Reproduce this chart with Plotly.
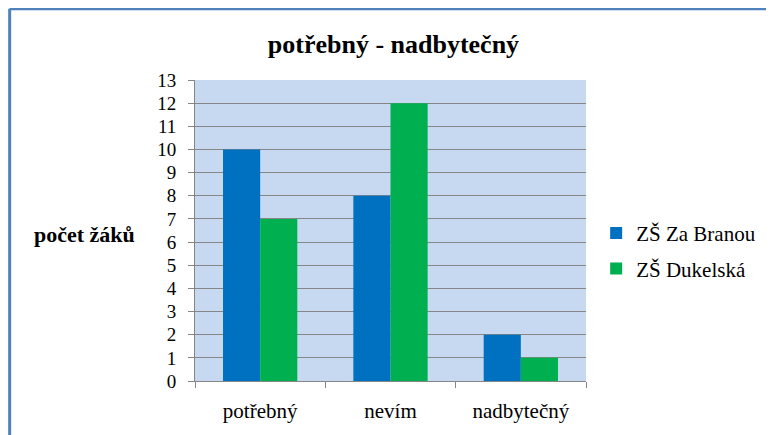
import plotly.graph_objects as go

categories = ["potřebný", "nevím", "nadbytečný"]
za_branou = [10, 8, 2]
dukelska = [7, 12, 1]
series_names = ["ZŠ Za Branou", "ZŠ Dukelská"]
chart_title = "potřebný - nadbytečný"
y_title = "počet žáků"

serif = "Liberation Serif"

fig = go.Figure()

fig.add_trace(go.Bar(
    x=categories,
    y=za_branou,
    name=series_names[0],
    legendgroup="a",
    marker=dict(color="#0070C0", line=dict(width=0))
))

fig.add_trace(go.Bar(
    x=categories,
    y=dukelska,
    name=series_names[1],
    legendgroup="b",
    marker=dict(color="#00B050", line=dict(width=0))
))

# outer frame of the chart (only top and left edges show in the picture)
fig.add_shape(type="line", xref="paper", yref="paper",
              x0=-0.474, x1=1.5, y0=1.237, y1=1.237,
              line=dict(color="#4F81BD", width=3))
fig.add_shape(type="line", xref="paper", yref="paper",
              x0=-0.474, x1=-0.474, y0=1.237, y1=-0.25,
              line=dict(color="#4F81BD", width=3))

fig.add_annotation(
    text="<b>" + y_title + "</b>",
    xref="paper", yref="paper",
    x=-0.416, y=0.487,
    xanchor="left", yanchor="middle",
    showarrow=False,
    font=dict(family=serif, size=22, color="black")
)

fig.update_layout(
    width=774,
    height=435,
    margin=dict(l=187, r=196, t=72, b=62),
    paper_bgcolor="white",
    plot_bgcolor="#C6D9F1",
    barmode="group",
    bargap=0.43,
    bargroupgap=0,
    title=dict(
        text="<b>" + chart_title + "</b>",
        x=0.498,
        y=0.918,
        xanchor="center",
        yanchor="middle",
        font=dict(family=serif, size=26, color="black")
    ),
    legend=dict(
        x=1.026,
        y=0.432,
        xanchor="left",
        yanchor="middle",
        font=dict(family=serif, size=21, color="black"),
        bgcolor="rgba(0,0,0,0)",
        tracegroupgap=5
    ),
    xaxis=dict(
        showgrid=False,
        showline=True,
        linecolor="#868686",
        linewidth=1,
        ticks="outside",
        tickson="boundaries",
        ticklen=6,
        tickcolor="#868686",
        tickfont=dict(family=serif, size=21, color="black"),
        ticklabelstandoff=11
    ),
    yaxis=dict(
        range=[0, 13],
        dtick=1,
        showgrid=True,
        gridcolor="#868686",
        gridwidth=1,
        showline=True,
        linecolor="#868686",
        linewidth=1,
        ticks="outside",
        ticklen=6,
        tickcolor="#868686",
        zeroline=False,
        ticklabelstandoff=8,
        tickfont=dict(family=serif, size=19, color="black")
    )
)

fig.write_html("out.html")
